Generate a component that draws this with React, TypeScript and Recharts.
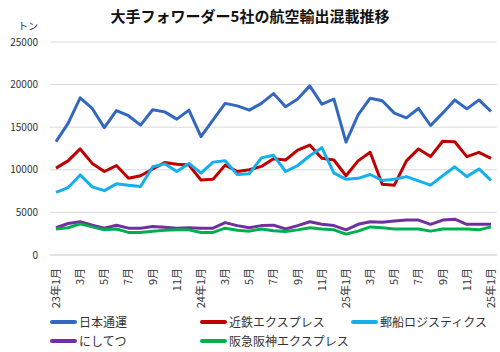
import { LineChart, Line, XAxis, YAxis, CartesianGrid } from 'recharts'

const months = [
  '23年1月', '2月', '3月', '4月', '5月', '6月', '7月', '8月', '9月', '10月', '11月', '12月',
  '24年1月', '2月', '3月', '4月', '5月', '6月', '7月', '8月', '9月', '10月', '11月', '12月',
  '25年1月', '2月', '3月', '4月', '5月', '6月', '7月', '8月', '9月', '10月', '11月', '12月',
  '25年1月'
]

const nittsu = [
  13300, 15450, 18450, 17200, 14950, 16950, 16350, 15250, 17050, 16800, 15950, 17000,
  13900, 15850, 17800, 17500, 17000, 17800, 18950, 17400, 18300, 19850, 17700, 18300,
  13250, 16450, 18400, 18100, 16650, 16100, 17200, 15200, 16650, 18200, 17150, 18200,
  16850
]
const kintetsu = [
  10200, 11050, 12450, 10750, 9800, 10500, 9000, 9300, 10100, 10850, 10650, 10550,
  8800, 8900, 10550, 9800, 10000, 10400, 11300, 11150, 12300, 12900, 11350, 11150,
  9300, 11050, 12050, 8300, 8200, 11050, 12450, 11550, 13350, 13300, 11550, 12050,
  11350
]
const yusen = [
  7350, 7900, 9400, 8000, 7550, 8350, 8200, 8050, 10350, 10700, 9800, 10750,
  9600, 10900, 11050, 9450, 9550, 11400, 11700, 9800, 10500, 11650, 12600, 9600,
  8900, 9000, 9450, 8750, 8900, 9200, 8700, 8200, 9300, 10350, 9200, 10100,
  8750
]
const nishitetsu = [
  3200, 3700, 3900, 3500, 3150, 3500, 3150, 3150, 3350, 3250, 3150, 3200,
  3150, 3150, 3800, 3450, 3200, 3450, 3500, 3050, 3450, 3900, 3600, 3450,
  2950, 3600, 3900, 3850, 4000, 4100, 4100, 3600, 4100, 4200, 3600, 3600,
  3600
]
const hankyu = [
  3050, 3200, 3650, 3300, 2950, 3050, 2650, 2650, 2800, 2900, 2950, 2950,
  2650, 2650, 3150, 2900, 2800, 3050, 2850, 2750, 2950, 3200, 3050, 2950,
  2450, 2800, 3300, 3200, 3050, 3050, 3050, 2800, 3050, 3050, 3050, 2950,
  3300
]

const yTicks = [0, 5000, 10000, 15000, 20000, 25000]

const series = [
  { key: 'nittsu', name: '日本通運', color: '#3468c0', values: nittsu },
  { key: 'kintetsu', name: '近鉄エクスプレス', color: '#c00000', values: kintetsu },
  { key: 'yusen', name: '郵船ロジスティクス', color: '#14b0ec', values: yusen },
  { key: 'nishitetsu', name: 'にしてつ', color: '#7030a0', values: nishitetsu },
  { key: 'hankyu', name: '阪急阪神エクスプレス', color: '#00b050', values: hankyu }
]

const data = months.map((month, i) => {
  const row: Record<string, string | number> = { month }
  series.forEach(s => { row[s.key] = s.values[i] })
  return row
})

const font = "'Noto Sans CJK JP', 'Noto Sans', sans-serif"

const MonthTick = (props: any) => {
  const { x, y, payload } = props
  const ty = y + 5
  return (
    <text x={x} y={ty} transform={`rotate(-90 ${x} ${ty})`} textAnchor="end" dy="0.35em"
      fontSize={11} fill="#333" fontFamily={font}>
      {payload.value}
    </text>
  )
}

export default function App() {
  return (
    <div style={{ position: 'absolute', left: 0, top: 0, width: 500, height: 352, background: '#fff', fontFamily: font }}>
      <div style={{ position: 'absolute', left: 0, top: 5, width: 500, textAlign: 'center', fontSize: 15, fontWeight: 'bold', color: '#111' }}>
        大手フォワーダー5社の航空輸出混載推移
      </div>
      <div style={{ position: 'absolute', left: 18, top: 21, fontSize: 10, lineHeight: '10px', color: '#333' }}>トン</div>
      <LineChart width={500} height={310} data={data} margin={{ top: 42, right: 3, left: 0, bottom: 0 }}>
        <CartesianGrid vertical={false} stroke="#d9d9d9" />
        <XAxis dataKey="month" interval={1} tick={<MonthTick />} tickLine={false}
          axisLine={{ stroke: '#d9d9d9' }} height={55} padding={{ left: 6, right: 6 }} />
        <YAxis domain={[0, 25000]} ticks={yTicks} width={50} tickLine={false} axisLine={false}
          tickMargin={6} tick={{ fontSize: 10, fill: '#333', fontFamily: font }} />
        {series.map(s => (
          <Line key={s.key} type="linear" dataKey={s.key} name={s.name} stroke={s.color}
            strokeWidth={3} dot={false} isAnimationActive={false} strokeLinejoin="round" />
        ))}
      </LineChart>
      {series.map((s, i) => (
        <div key={s.key} style={{
          position: 'absolute', left: [50, 200, 351][i % 3], top: i < 3 ? 313 : 332,
          display: 'flex', alignItems: 'center', fontSize: 12, color: '#333', whiteSpace: 'nowrap'
        }}>
          <span style={{ display: 'inline-block', width: 27, height: 4, borderRadius: 2, background: s.color, marginRight: 2 }} />
          {s.name}
        </div>
      ))}
    </div>
  )
}
